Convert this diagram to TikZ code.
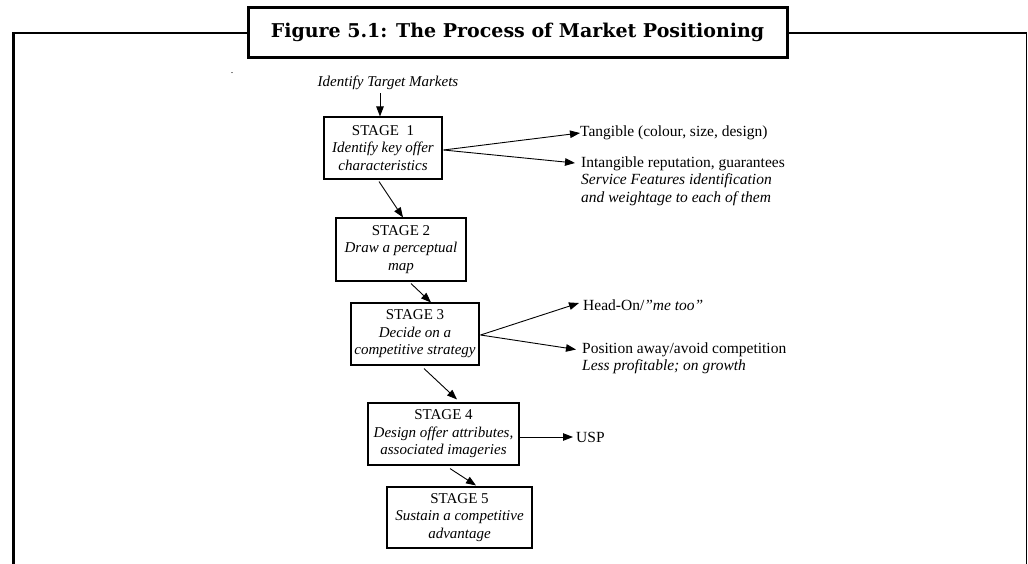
\documentclass[tikz,border=0pt]{standalone}
\usepackage{fontspec}
\setmainfont{Liberation Serif}
\newfontfamily\titlefont{DejaVu Serif}
\usetikzlibrary{arrows.meta,calc}
\begin{document}
\begin{tikzpicture}[x=1pt,y=-1pt,
  stagebox/.style={draw, line width=1.1pt, inner sep=0pt, align=center,
    font=\fontsize{15}{17.5}\selectfont},
  lbl/.style={inner sep=0pt, anchor=west, align=left,
    font=\fontsize{15.5}{17.5}\selectfont},
  arr/.style={line width=0.9pt, -{Triangle[length=10pt,width=7.5pt]}},
  titlebox/.style={draw, line width=3pt, fill=white, inner sep=0pt,
    minimum width=539pt, minimum height=50pt,
    font=\titlefont\fontsize{19}{23}\selectfont\bfseries}
]
\useasboundingbox (0,0) rectangle (1028,563);

% outer frame
\draw[line width=2.6pt] (13.5,566) -- (13.5,33) -- (1026.5,33);
\draw[line width=1.6pt] (1026.5,33) -- (1026.5,566);
\node[titlebox] (title) at (517.5,32) {Figure 5.1: The Process of Market Positioning};

% stray mark
\node[inner sep=0pt, font=\fontsize{10}{12}\selectfont] (dot) at (232,73) {.};

% starting point
\node[inner sep=0pt, font=\fontsize{15}{17.5}\selectfont\itshape] (tm) at (388,83) {Identify Target Markets};

% stages
\node[stagebox, minimum width=118pt, minimum height=62pt] (s1) at (383,148)
  {STAGE~~1\\\textit{Identify key offer}\\\textit{characteristics}};
\node[stagebox, minimum width=130pt, minimum height=63pt] (s2) at (401,249.5)
  {STAGE 2\\\textit{Draw a perceptual}\\\textit{map}};
\node[stagebox, minimum width=128pt, minimum height=62pt] (s3) at (415,334)
  {STAGE 3\\\textit{Decide on a}\\\textit{competitive strategy}};
\node[stagebox, minimum width=151pt, minimum height=62pt] (s4) at (443.5,434)
  {STAGE 4\\\textit{Design offer attributes,}\\\textit{associated imageries}};
\node[stagebox, minimum width=145pt, minimum height=61pt] (s5) at (459.5,517.5)
  {STAGE 5\\\textit{Sustain a competitive}\\\textit{advantage}};

% side outcomes
\node[lbl] (tang) at (580,133) {Tangible (colour, size, design)};
\node[lbl] (intang) at (581,181)
  {Intangible reputation, guarantees\\\textit{Service Features identification}\\\textit{and weightage to each of them}};
\node[lbl] (head) at (583,305) {Head-On/\textit{”me too”}};
\node[lbl] (away) at (582,358.5)
  {Position away/avoid competition\\\textit{Less profitable; on growth}};
\node[lbl] (usp) at (576,437) {USP};

% main flow
\draw[arr] ($(tm.south)+(-8,3)$) -- ($(s1.north)+(-3,0)$);
\draw[arr] ($(s1.south)+(-4,2)$) -- ($(s2.north)+(2,0)$);
\draw[arr] ($(s2.south)+(10,2)$) -- ($(s3.north)+(16,0)$);
\draw[arr] ($(s3.south)+(9,3)$) -- ($(s4.north)+(13.5,-3)$);
\draw[arr] ($(s4.south)+(6.5,3)$) -- ($(s5.north)+(16.5,-1)$);

% branches
\draw[arr] ($(s1.east)+(1,2)$) -- (tang.west);
\draw[arr] ($(s1.east)+(1,2)$) -- ($(intang.west)+(-6,-18)$);
\draw[arr] ($(s3.east)+(1,1)$) -- ($(head.west)+(-4,-2)$);
\draw[arr] ($(s3.east)+(1,1)$) -- ($(away.west)+(-6,-9)$);
\draw[arr] (s4.east |- usp) -- ($(usp.west)+(-3,0)$);
\end{tikzpicture}
\end{document}
